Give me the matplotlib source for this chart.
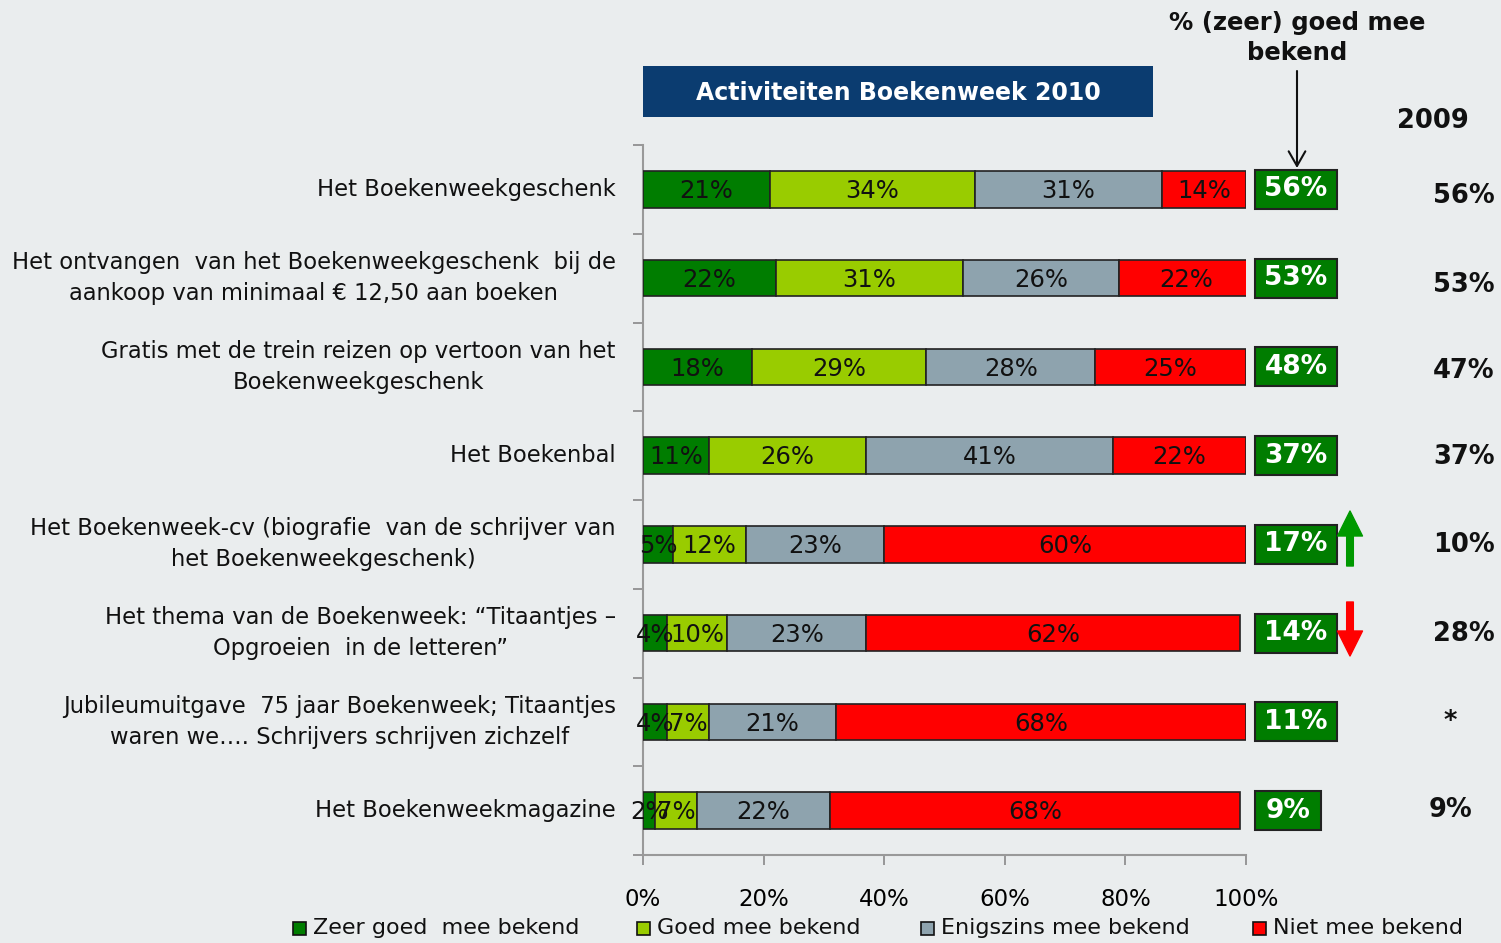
import matplotlib
matplotlib.use("Agg")
import matplotlib.pyplot as plt
from matplotlib.patches import Rectangle, FancyArrowPatch

categories = [
    "Het Boekenweekgeschenk",
    "Het ontvangen  van het Boekenweekgeschenk  bij de\naankoop van minimaal € 12,50 aan boeken",
    "Gratis met de trein reizen op vertoon van het\nBoekenweekgeschenk",
    "Het Boekenbal",
    "Het Boekenweek-cv (biografie  van de schrijver van\nhet Boekenweekgeschenk)",
    "Het thema van de Boekenweek: \u201cTitaantjes \u2013\nOpgroeien  in de letteren\u201d",
    "Jubileumuitgave  75 jaar Boekenweek; Titaantjes\nwaren we\u2026. Schrijvers schrijven zichzelf",
    "Het Boekenweekmagazine",
]
zeer_goed = [21, 22, 18, 11, 5, 4, 4, 2]
goed = [34, 31, 29, 26, 12, 10, 7, 7]
enigszins = [31, 26, 28, 41, 23, 23, 21, 22]
niet = [14, 22, 25, 22, 60, 62, 68, 68]
totaal_2010 = ["56%", "53%", "48%", "37%", "17%", "14%", "11%", "9%"]
totaal_2009 = ["56%", "53%", "47%", "37%", "10%", "28%", "*", "9%"]
series_names = ["Zeer goed  mee bekend", "Goed mee bekend", "Enigszins mee bekend", "Niet mee bekend"]
xticks = [0, 20, 40, 60, 80, 100]

colors = ["#007D00", "#99CC00", "#8EA3AE", "#FF0000"]
bg = "#EAEDEE"
W, H = 1501, 943

plt.rcParams['font.family'] = ['DejaVu Sans']
fig = plt.figure(figsize=(W / 100, H / 100), dpi=100, facecolor=bg)

def fx(px):
    return px / W

def fy(py):
    return 1 - py / H

ax = fig.add_axes([fx(643), fy(855), fx(1246) - fx(643), fy(145) - fy(855)])
ax.set_facecolor(bg)

n = len(categories)
ypos = list(range(n))
bh = 0.41
series = [zeer_goed, goed, enigszins, niet]
for y in ypos:
    left = 0
    for s, col in zip(series, colors):
        v = s[y]
        ax.barh(y, v, left=left, height=bh, color=col, edgecolor="#222222", linewidth=1.2, zorder=3)
        ax.text(left + v / 2, y + 0.02, f"{v}%", ha="center", va="center", fontsize=17.5, color="#111111",
                zorder=4)
        left += v

ax.set_xlim(0, 100)
ax.set_ylim(n - 0.5, -0.5)
ax.set_xticks(xticks)
ax.set_xticklabels([f"{t}%" for t in xticks], fontsize=16.5)
ax.tick_params(axis="x", length=7, width=1.2, color="#888888", pad=17)
ax.set_yticks([i - 0.5 for i in range(n + 1)])
ax.set_yticklabels([])
ax.tick_params(axis="y", length=7, width=1.2, color="#888888")
for sp in ["top", "right"]:
    ax.spines[sp].set_visible(False)
for sp in ["left", "bottom"]:
    ax.spines[sp].set_color("#999999")
    ax.spines[sp].set_linewidth(1.5)

# category labels
for y, c in zip(ypos, categories):
    ax.text(-4.5, y, c, ha="right", va="center", multialignment="center", fontsize=16.3, color="#111111",
            linespacing=1.45)

# green total boxes
for y, t in zip(ypos, totaal_2010):
    w = 13.6 if len(t) > 2 else 10.9
    ax.add_patch(Rectangle((101.5, y - 0.22), w, 0.44, facecolor="#007D00", edgecolor="#222222",
                           linewidth=1.5, clip_on=False, zorder=3))
    ax.text(101.5 + w / 2, y, t, ha="center", va="center", fontsize=19, fontweight="bold", color="white",
            zorder=4)

# 2009 column
fig.text(fx(1433), fy(121), "2009", ha="center", va="center", fontsize=18.5, fontweight="bold", color="#111111")
ypx_2009 = [196, 285, 371, 457, 545, 634, 722, 810]
for y, t in zip(ypos, totaal_2009):
    xc = 1450 if len(t) < 3 else 1464
    fig.text(fx(xc), fy(ypx_2009[y]), t, ha="center", va="center", fontsize=18.5, fontweight="bold",
             color="#111111")

# header annotation
fig.text(fx(1297), fy(38), "% (zeer) goed mee\nbekend", ha="center", va="center", fontsize=17.5,
         fontweight="bold", color="#111111", linespacing=1.3)
fig.add_artist(FancyArrowPatch((fx(1297), fy(71)), (fx(1297), fy(168)),
                               transform=fig.transFigure, arrowstyle="->,head_width=4,head_length=7",
                               color="#111111", linewidth=1.5, mutation_scale=1.5, shrinkA=0, shrinkB=0))

# trend arrows
fig.add_artist(FancyArrowPatch((fx(1350), fy(566)), (fx(1350), fy(511)),
                               transform=fig.transFigure,
                               arrowstyle="simple,head_width=1.5,head_length=1.5,tail_width=0.4",
                               color="#009900", mutation_scale=12, shrinkA=0, shrinkB=0))
fig.add_artist(FancyArrowPatch((fx(1350), fy(602)), (fx(1350), fy(656)),
                               transform=fig.transFigure,
                               arrowstyle="simple,head_width=1.5,head_length=1.5,tail_width=0.4",
                               color="#FF0000", mutation_scale=12, shrinkA=0, shrinkB=0))

# title box
fig.add_artist(Rectangle((fx(643), fy(117)), fx(1153) - fx(643), fy(66) - fy(117),
                         transform=fig.transFigure, facecolor="#0B3C70", edgecolor="none"))
fig.text(fx(898), fy(93), "Activiteiten Boekenweek 2010", ha="center", va="center", fontsize=17,
         fontweight="bold", color="white")

# legend
leg_x = [293, 637, 921, 1253]
for xp, name, col in zip(leg_x, series_names, colors):
    fig.add_artist(Rectangle((fx(xp), fy(935)), fx(13), fy(0) - fy(13), transform=fig.transFigure,
                             facecolor=col, edgecolor="#111111", linewidth=1.2))
    fig.text(fx(xp + 20), fy(928), name, ha="left", va="center", fontsize=16, color="#111111")

fig.savefig("out.png", dpi=100, facecolor=bg)
